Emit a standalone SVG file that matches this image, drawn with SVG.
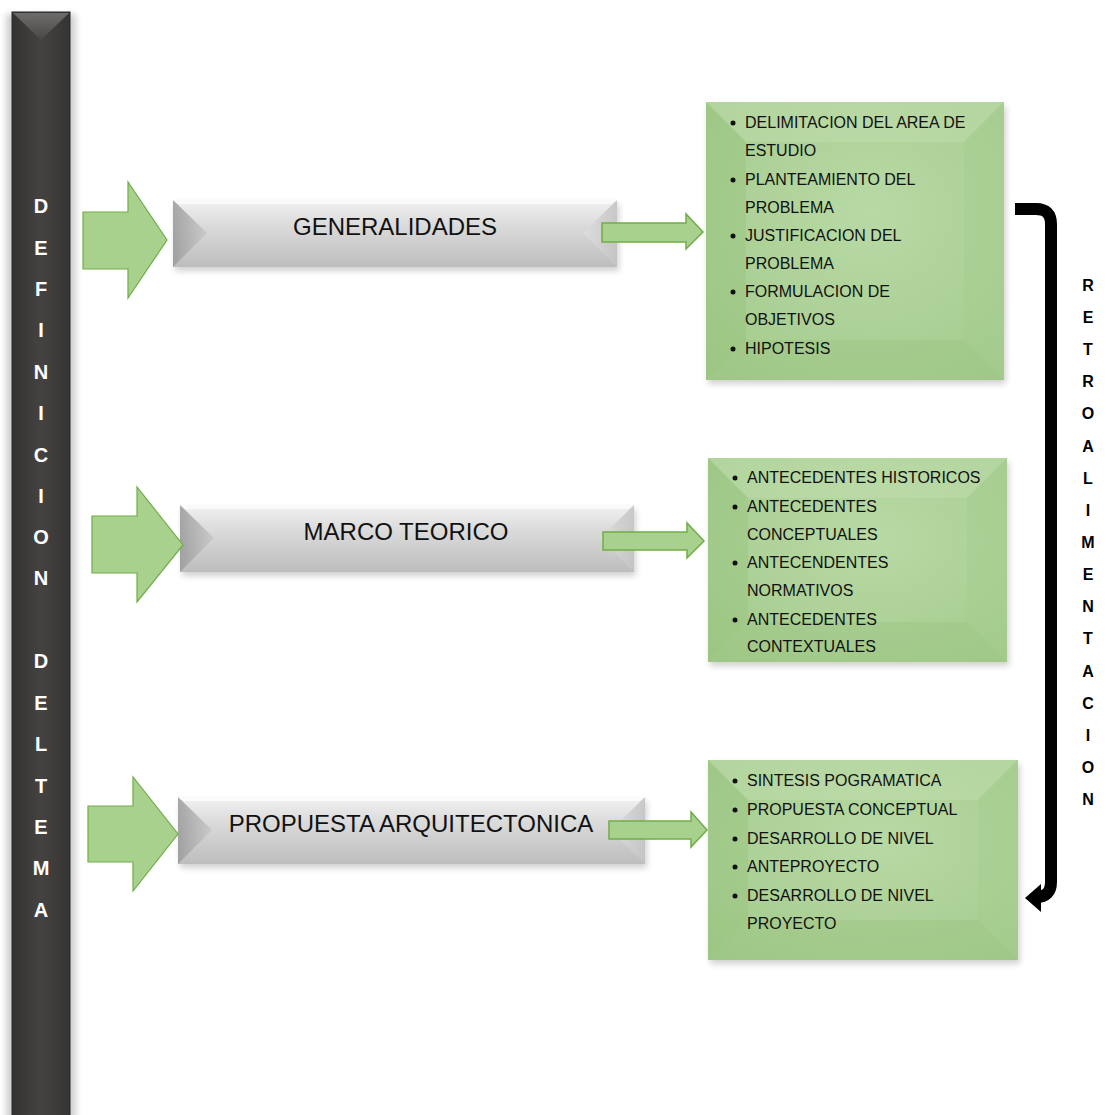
<svg xmlns="http://www.w3.org/2000/svg" width="1106" height="1115" viewBox="0 0 1106 1115">
<defs>
<style>
.bar-letter{font-family:"Liberation Sans",Arial,sans-serif;font-weight:bold;font-size:20px;fill:#ffffff;text-anchor:middle}
.retro{font-family:"Liberation Sans",Arial,sans-serif;font-weight:bold;font-size:16px;fill:#000000;text-anchor:middle}
.title{font-family:"Liberation Sans",Arial,sans-serif;font-size:24px;fill:#111111;text-anchor:middle}
.item{font-family:"Liberation Sans",Arial,sans-serif;font-size:16px;fill:#111111}
.bigarrow{fill:#a9d18e;stroke:#70ad47;stroke-width:1.2}
.smallarrow{fill:#a9d18e;stroke:#70ad47;stroke-width:1.5}
.shadow{fill:#000;opacity:0.18;filter:url(#blur)}
</style>
<filter id="blur" x="-10%" y="-10%" width="120%" height="130%"><feGaussianBlur stdDeviation="3"/></filter>
<linearGradient id="barGrad" x1="0" y1="0" x2="1" y2="0">
<stop offset="0" stop-color="#353232"/>
<stop offset="0.5" stop-color="#454242"/>
<stop offset="1" stop-color="#363333"/>
</linearGradient>
<linearGradient id="barTop" x1="0" y1="0" x2="0" y2="1">
<stop offset="0" stop-color="#6e6b6b"/>
<stop offset="1" stop-color="#4a4747"/>
</linearGradient>
<linearGradient id="grayGrad" x1="0" y1="0" x2="0" y2="1">
<stop offset="0" stop-color="#f2f2f2"/>
<stop offset="0.35" stop-color="#dcdcdc"/>
<stop offset="1" stop-color="#bdbdbd"/>
</linearGradient>
<linearGradient id="bevelL" x1="0" y1="0" x2="1" y2="0">
<stop offset="0" stop-color="#9a9a9a"/>
<stop offset="1" stop-color="#c8c8c8"/>
</linearGradient>
<linearGradient id="bevelR" x1="1" y1="0" x2="0" y2="0">
<stop offset="0" stop-color="#c4c4c4"/>
<stop offset="1" stop-color="#dedede"/>
</linearGradient>
<radialGradient id="greenGrad" cx="0.55" cy="0.4" r="0.75">
<stop offset="0" stop-color="#b8d9a4"/>
<stop offset="1" stop-color="#a4cb8d"/>
</radialGradient>
</defs>

<!-- Left vertical bar -->
<g id="bar-definicion">
<rect x="6" y="14" width="70" height="1110" class="shadow"/>
<rect x="12" y="12" width="58" height="1110" fill="url(#barGrad)" stroke="#2a2828" stroke-width="1"/>
<polygon points="13,13 69,13 41,40" fill="url(#barTop)"/>
<g class="bar-letter">
<text x="41" y="213">D</text>
<text x="41" y="255">E</text>
<text x="41" y="296">F</text>
<text x="41" y="337">I</text>
<text x="41" y="379">N</text>
<text x="41" y="420">I</text>
<text x="41" y="462">C</text>
<text x="41" y="503">I</text>
<text x="41" y="544">O</text>
<text x="41" y="585">N</text>
<text x="41" y="668">D</text>
<text x="41" y="710">E</text>
<text x="41" y="751">L</text>
<text x="41" y="793">T</text>
<text x="41" y="834">E</text>
<text x="41" y="875">M</text>
<text x="41" y="917">A</text>
</g>
</g>

<!-- Gray title boxes -->
<g id="node-generalidades">
<rect x="175" y="204" width="444" height="67" class="shadow"/>
<rect x="173" y="200" width="444" height="67" fill="url(#grayGrad)"/>
<polygon points="173,200 207,233 173,267" fill="url(#bevelL)" opacity="0.85"/>
<polygon points="617,200 583,233 617,267" fill="url(#bevelR)" opacity="0.9"/>
<polygon points="173,200 617,200 612,204 178,204" fill="#fafafa"/>
<text x="395" y="235" class="title">GENERALIDADES</text>
</g>
<g id="node-marco-teorico">
<rect x="182" y="509" width="454" height="67" class="shadow"/>
<rect x="180" y="505" width="454" height="67" fill="url(#grayGrad)"/>
<polygon points="180,505 214,538 180,572" fill="url(#bevelL)" opacity="0.85"/>
<polygon points="634,505 600,538 634,572" fill="url(#bevelR)" opacity="0.9"/>
<polygon points="180,505 634,505 629,509 185,509" fill="#fafafa"/>
<text x="406" y="540" class="title">MARCO TEORICO</text>
</g>
<g id="node-propuesta">
<rect x="180" y="801" width="467" height="67" class="shadow"/>
<rect x="178" y="797" width="467" height="67" fill="url(#grayGrad)"/>
<polygon points="178,797 212,830 178,864" fill="url(#bevelL)" opacity="0.85"/>
<polygon points="645,797 611,830 645,864" fill="url(#bevelR)" opacity="0.9"/>
<polygon points="178,797 645,797 640,801 183,801" fill="#fafafa"/>
<text x="411" y="832" class="title">PROPUESTA ARQUITECTONICA</text>
</g>

<!-- Green list boxes -->
<g id="node-list-1">
<rect x="708" y="106" width="298" height="278" class="shadow"/>
<rect x="706" y="102" width="298" height="278" fill="url(#greenGrad)"/>
<polygon points="706,102 1004,102 964,142 746,142" fill="#c8e1b8" opacity="0.35"/>
<polygon points="706,102 746,142 746,340 706,380" fill="#8fbd73" opacity="0.3"/>
<polygon points="1004,102 1004,380 964,340 964,142" fill="#a3cb8a" opacity="0.3"/>
<polygon points="706,380 746,340 964,340 1004,380" fill="#94c179" opacity="0.3"/>
<g class="item">
<circle cx="733" cy="123" r="2.5"/><text x="745" y="128">DELIMITACION DEL AREA DE</text>
<text x="745" y="156">ESTUDIO</text>
<circle cx="733" cy="180" r="2.5"/><text x="745" y="185">PLANTEAMIENTO DEL</text>
<text x="745" y="213">PROBLEMA</text>
<circle cx="733" cy="236" r="2.5"/><text x="745" y="241">JUSTIFICACION DEL</text>
<text x="745" y="269">PROBLEMA</text>
<circle cx="733" cy="292" r="2.5"/><text x="745" y="297">FORMULACION DE</text>
<text x="745" y="325">OBJETIVOS</text>
<circle cx="733" cy="349" r="2.5"/><text x="745" y="354">HIPOTESIS</text>
</g>
</g>
<g id="node-list-2">
<rect x="710" y="462" width="299" height="204" class="shadow"/>
<rect x="708" y="458" width="299" height="204" fill="url(#greenGrad)"/>
<polygon points="708,458 1007,458 967,498 748,498" fill="#c8e1b8" opacity="0.35"/>
<polygon points="708,458 748,498 748,622 708,662" fill="#8fbd73" opacity="0.3"/>
<polygon points="1007,458 1007,662 967,622 967,498" fill="#a3cb8a" opacity="0.3"/>
<polygon points="708,662 748,622 967,622 1007,662" fill="#94c179" opacity="0.3"/>
<g class="item">
<circle cx="735" cy="478" r="2.5"/><text x="747" y="483">ANTECEDENTES HISTORICOS</text>
<circle cx="735" cy="507" r="2.5"/><text x="747" y="512">ANTECEDENTES</text>
<text x="747" y="540">CONCEPTUALES</text>
<circle cx="735" cy="563" r="2.5"/><text x="747" y="568">ANTECENDENTES</text>
<text x="747" y="596">NORMATIVOS</text>
<circle cx="735" cy="620" r="2.5"/><text x="747" y="625">ANTECEDENTES</text>
<text x="747" y="652">CONTEXTUALES</text>
</g>
</g>
<g id="node-list-3">
<rect x="710" y="764" width="310" height="200" class="shadow"/>
<rect x="708" y="760" width="310" height="200" fill="url(#greenGrad)"/>
<polygon points="708,760 1018,760 978,800 748,800" fill="#c8e1b8" opacity="0.35"/>
<polygon points="708,760 748,800 748,920 708,960" fill="#8fbd73" opacity="0.3"/>
<polygon points="1018,760 1018,960 978,920 978,800" fill="#a3cb8a" opacity="0.3"/>
<polygon points="708,960 748,920 978,920 1018,960" fill="#94c179" opacity="0.3"/>
<g class="item">
<circle cx="735" cy="781" r="2.5"/><text x="747" y="786">SINTESIS POGRAMATICA</text>
<circle cx="735" cy="810" r="2.5"/><text x="747" y="815">PROPUESTA CONCEPTUAL</text>
<circle cx="735" cy="839" r="2.5"/><text x="747" y="844">DESARROLLO DE NIVEL</text>
<circle cx="735" cy="867" r="2.5"/><text x="747" y="872">ANTEPROYECTO</text>
<circle cx="735" cy="896" r="2.5"/><text x="747" y="901">DESARROLLO DE NIVEL</text>
<text x="747" y="929">PROYECTO</text>
</g>
</g>

<!-- Connectors -->
<g id="connectors">
<polygon class="bigarrow" points="83,212 128,212 128,182 167,240 128,298 128,269 83,269"/>
<polygon class="bigarrow" points="92,516 137,516 137,487 183,545 137,602 137,573 92,573"/>
<polygon class="bigarrow" points="88,806 133,806 133,777 178,834 133,891 133,862 88,862"/>
<polygon class="smallarrow" points="602,223 686,223 686,214 703,232 686,249 686,242 602,242"/>
<polygon class="smallarrow" points="603,532 687,532 687,523 704,541 687,558 687,550 603,550"/>
<polygon class="smallarrow" points="609,821 691,821 691,812 707,830 691,847 691,839 609,839"/>
<path d="M1015,209 H1036 Q1051,209 1051,224 V882 Q1051,897 1036,897 H1038" fill="none" stroke="#000" stroke-width="12"/>
<polygon points="1025,898 1041,884 1041,912" fill="#000"/>
</g>

<!-- Retroalimentacion label -->
<g id="label-retroalimentacion" class="retro">
<text x="1088" y="291">R</text>
<text x="1088" y="323">E</text>
<text x="1088" y="355">T</text>
<text x="1088" y="387">R</text>
<text x="1088" y="419">O</text>
<text x="1088" y="452">A</text>
<text x="1088" y="484">L</text>
<text x="1088" y="516">I</text>
<text x="1088" y="548">M</text>
<text x="1088" y="580">E</text>
<text x="1088" y="612">N</text>
<text x="1088" y="644">T</text>
<text x="1088" y="677">A</text>
<text x="1088" y="709">C</text>
<text x="1088" y="741">I</text>
<text x="1088" y="773">O</text>
<text x="1088" y="805">N</text>
</g>
</svg>
